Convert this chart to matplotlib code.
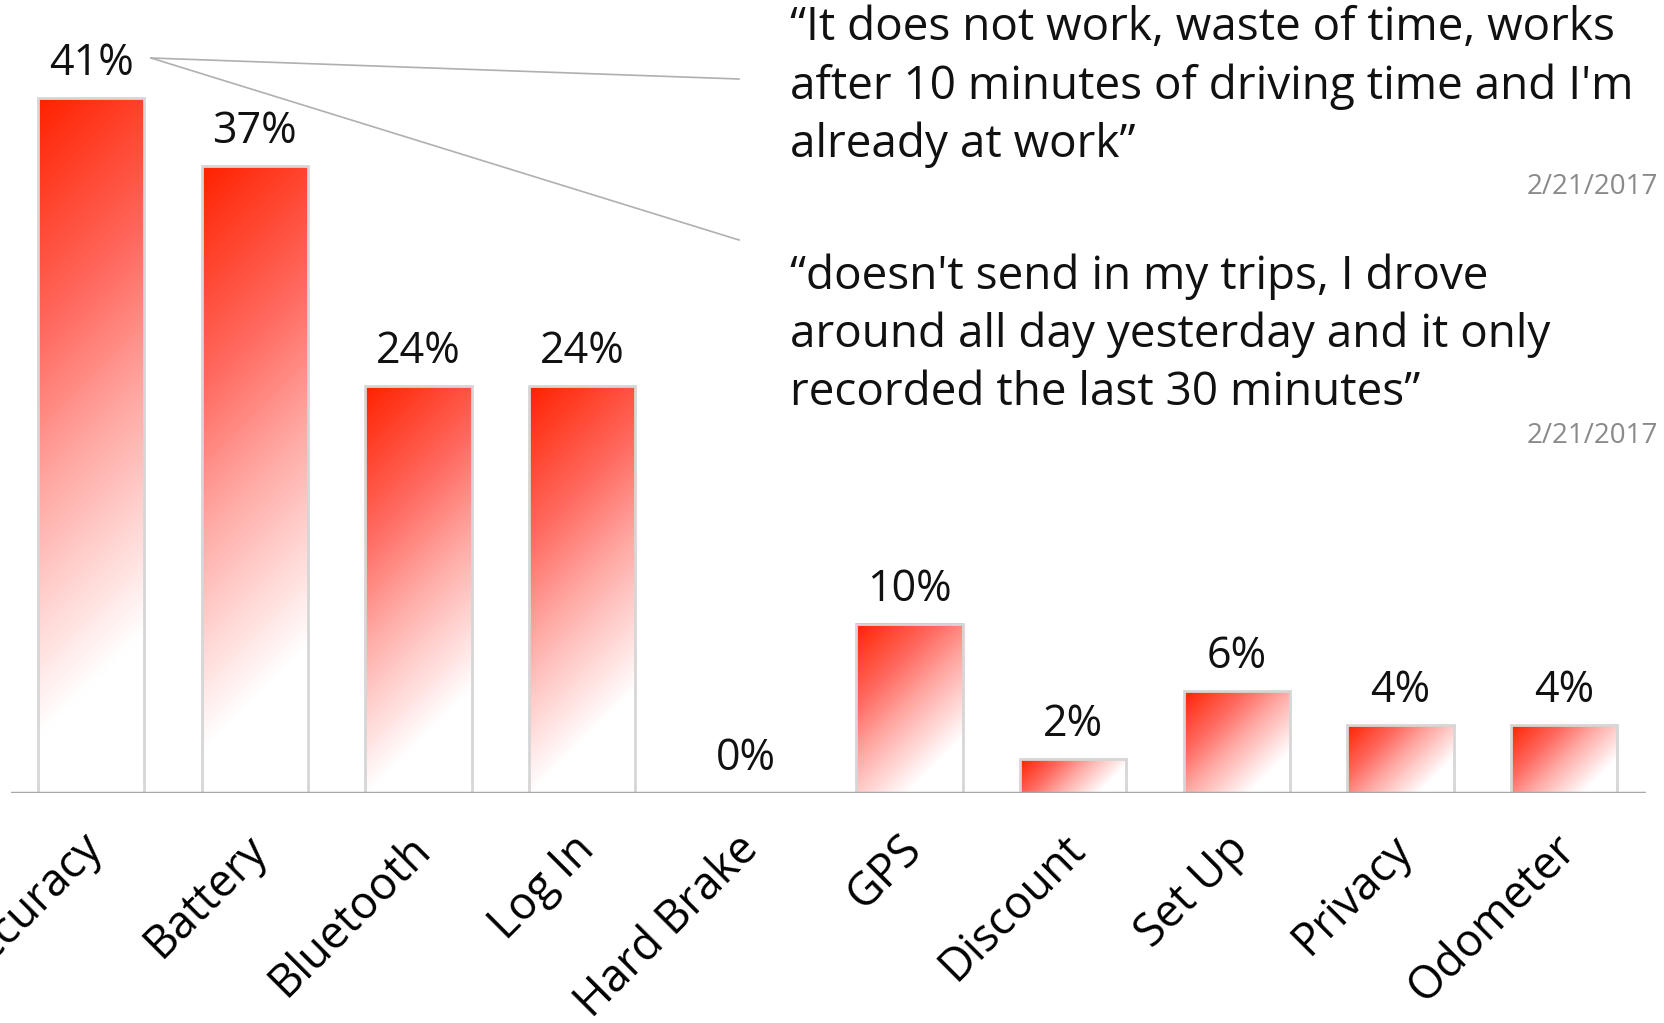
import matplotlib.pyplot as plt
import numpy as np
from matplotlib.colors import LinearSegmentedColormap
from matplotlib.transforms import ScaledTranslation

# Данные
categories = ['Accuracy', 'Battery', 'Bluetooth', 'Log In', 'Hard Brake',
              'GPS', 'Discount', 'Set Up', 'Privacy', 'Odometer']
values = [41, 37, 24, 24, 0, 10, 2, 6, 4, 4]

quote_1 = ("\u201cIt does not work, waste of time, works\n"
           "after 10 minutes of driving time and I'm\n"
           "already at work\u201d")
quote_2 = ("\u201cdoesn't send in my trips, I drove\n"
           "around all day yesterday and it only\n"
           "recorded the last 30 minutes\u201d")
quote_dates = ['2/21/2017', '2/21/2017']

plt.rcParams['font.family'] = ['Open Sans', 'DejaVu Sans']

W, H = 1664, 1023
fig = plt.figure(figsize=(W / 100, H / 100), dpi=100)
ax = fig.add_axes([11 / W, 1 - 793 / H, 1635 / W, 793 / H])
ax.set_xlim(-0.49, 9.5)
ax.set_ylim(0, 46.8)

cmap = LinearSegmentedColormap.from_list(
    'redwhite', [(0, '#ff2200'), (0.3, '#ff6a60'), (0.5, '#ffaaa5'),
                 (0.8, '#ffffff'), (1, '#ffffff')])
bar_w = 0.65
px_x = 1635 / 9.99
px_y = 793 / 46.8

x = np.arange(len(categories))
for xi, v in zip(x, values):
    if v > 0:
        wp = bar_w * px_x
        hp = v * px_y
        u = np.linspace(0, 1, 200)[None, :]
        t = np.linspace(0, 1, 400)[:, None]
        grad = (u * wp + t * hp) / (wp + hp)
        ax.imshow(grad, cmap=cmap, vmin=0, vmax=1, aspect='auto', origin='upper',
                  extent=(xi - bar_w / 2, xi + bar_w / 2, 0, v), zorder=1,
                  interpolation='bilinear')
    ax.text(xi, v + 0.7, f'{v}%', ha='center', va='bottom', fontsize=31, color='#111111')

ax.bar(x, values, width=bar_w, facecolor='none', edgecolor='#d6d6d6', linewidth=2, zorder=2)

ax.axhline(0, color='#a8a8a8', linewidth=2.5, zorder=3)
for s in ax.spines.values():
    s.set_visible(False)
ax.set_yticks([])
ax.set_xticks(x)
ax.set_xticklabels(categories, rotation=45, ha='right', rotation_mode='anchor', fontsize=32.5)
ax.tick_params(axis='x', length=0, pad=24)
shift = ScaledTranslation(-11 / 100, 0, fig.dpi_scale_trans)
for lbl in ax.get_xticklabels():
    lbl.set_transform(lbl.get_transform() + shift)

# цитаты
fig.text(790 / W, 1 - 5 / H, quote_1, ha='left', va='top', fontsize=33,
         linespacing=1.34, color='#111111')
fig.text(1658 / W, 1 - 187 / H, quote_dates[0], ha='right', va='center', fontsize=20, color='#8a8a8a')
fig.text(790 / W, 1 - 253 / H, quote_2, ha='left', va='top', fontsize=33,
         linespacing=1.34, color='#111111')
fig.text(1658 / W, 1 - 436 / H, quote_dates[1], ha='right', va='center', fontsize=20, color='#8a8a8a')

# линии-выноски
for y_end in [79, 240]:
    fig.add_artist(plt.Line2D([151 / W, 739 / W], [1 - 58 / H, 1 - y_end / H],
                              color='#b0b0b0', linewidth=1.2))

fig.savefig('out.png', dpi=100)
